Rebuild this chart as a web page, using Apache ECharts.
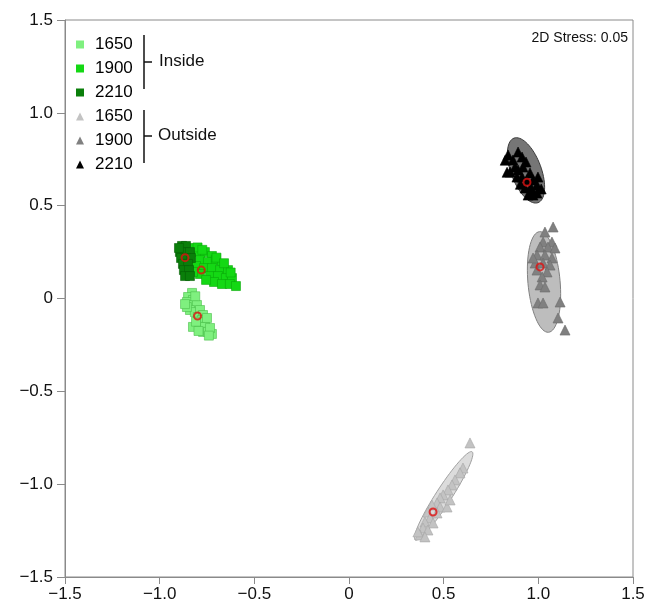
<!DOCTYPE html>
<html>
<head>
<meta charset="utf-8">
<script src="https://cdn.jsdelivr.net/npm/echarts@6/dist/echarts.min.js"></script>
<style>
  html, body { margin: 0; padding: 0; background: #fff; }
  #chart { width: 649px; height: 604px; }
</style>
</head>
<body>
<div id="chart"></div>
<script>
// MDS ordination, 2D coordinates
var insideA = [ // Inside 1650
  [-0.829, 0.030], [-0.850, 0.008], [-0.824, -0.008], [-0.856, -0.019], [-0.829, -0.035],
  [-0.803, -0.035], [-0.840, -0.062], [-0.814, -0.073], [-0.787, -0.062], [-0.798, -0.100],
  [-0.771, -0.089], [-0.777, -0.116], [-0.761, -0.127], [-0.824, -0.153], [-0.787, -0.153],
  [-0.761, -0.153], [-0.771, -0.180], [-0.745, -0.180], [-0.724, -0.191], [-0.734, -0.159],
  [-0.856, -0.046], [-0.750, -0.105], [-0.866, -0.030], [-0.808, -0.125], [-0.740, -0.200],
  [-0.812, 0.012], [-0.795, -0.175]
];
var insideB = [ // Inside 1900
  [-0.824, 0.272], [-0.798, 0.250], [-0.761, 0.250], [-0.724, 0.229], [-0.787, 0.207],
  [-0.745, 0.197], [-0.703, 0.207], [-0.671, 0.186], [-0.808, 0.175], [-0.766, 0.164],
  [-0.724, 0.164], [-0.681, 0.153], [-0.639, 0.153], [-0.787, 0.132], [-0.734, 0.121],
  [-0.692, 0.121], [-0.650, 0.110], [-0.618, 0.110], [-0.713, 0.089], [-0.671, 0.078],
  [-0.629, 0.078], [-0.597, 0.067], [-0.755, 0.100], [-0.840, 0.229], [-0.824, 0.143],
  [-0.800, 0.275], [-0.775, 0.262], [-0.700, 0.220], [-0.660, 0.190], [-0.625, 0.140]
];
var insideC = [ // Inside 2210
  [-0.882, 0.283], [-0.861, 0.283], [-0.893, 0.250], [-0.866, 0.250], [-0.840, 0.250],
  [-0.887, 0.218], [-0.861, 0.218], [-0.835, 0.218], [-0.877, 0.186], [-0.850, 0.186],
  [-0.872, 0.153], [-0.845, 0.153], [-0.866, 0.121], [-0.840, 0.121], [-0.898, 0.272]
];
var outsideA = [ // Outside 1650
  [0.639, -0.778], [0.602, -0.913], [0.586, -0.939], [0.560, -0.977], [0.544, -1.004],
  [0.523, -1.031], [0.497, -1.058], [0.481, -1.074], [0.465, -1.101], [0.481, -1.123],
  [0.438, -1.112], [0.417, -1.150], [0.465, -1.155], [0.428, -1.182], [0.401, -1.204],
  [0.444, -1.209], [0.391, -1.236], [0.417, -1.247], [0.375, -1.274], [0.401, -1.284],
  [0.364, -1.257], [0.518, -1.123], [0.534, -1.085]
];
var outsideB = [ // Outside 1900
  [1.078, 0.385], [1.035, 0.358], [1.025, 0.304], [1.072, 0.304], [1.009, 0.277],
  [1.051, 0.277], [1.088, 0.272], [0.993, 0.234], [1.035, 0.234], [1.072, 0.218],
  [0.983, 0.191], [1.025, 0.191], [1.062, 0.180], [0.993, 0.153], [1.046, 0.143],
  [1.020, 0.116], [1.009, 0.073], [1.035, 0.062], [0.998, -0.024], [1.025, -0.024],
  [1.115, -0.019], [1.104, -0.105], [1.141, -0.170], [0.972, 0.218]
];
var outsideC = [ // Outside 2210
  [0.840, 0.773], [0.893, 0.789], [0.914, 0.762], [0.851, 0.681], [0.877, 0.708],
  [0.919, 0.708], [0.956, 0.676], [0.940, 0.638], [0.972, 0.638], [0.993, 0.611],
  [0.930, 0.595], [0.967, 0.574], [0.993, 0.568], [0.946, 0.557], [0.972, 0.557],
  [0.893, 0.692], [0.914, 0.654], [0.887, 0.654], [0.998, 0.654], [0.935, 0.735],
  [0.866, 0.746], [0.825, 0.745], [0.835, 0.680], [1.015, 0.590], [0.905, 0.615],
  [0.960, 0.600]
];
// group centroids (red rings)
var centroids = [
  [-0.800, -0.094], [-0.780, 0.153], [-0.866, 0.220],
  [0.444, -1.150], [1.009, 0.170], [0.940, 0.626]
];
// ellipses: cx, cy, semi-major, semi-minor, angle of major axis (deg from x axis)
var ellipses = [
  [0.500, -1.063, 0.281, 0.042, 57.7],
  [1.030, 0.089, 0.272, 0.085, 95],
  [0.935, 0.690, 0.185, 0.080, 110]
];
var ellipseFill = ['#dcdcdc', '#bdbdbd', '#767676'];
var ellipseLine = ['#a0a0a0', '#808080', '#3a3a3a'];

var groupNames = ['1650', '1900', '2210'];
var axisTicks = [-1.5, -1.0, -0.5, 0, 0.5, 1.0, 1.5];

var chart = echarts.init(document.getElementById('chart'));

var fmt = function (v) {
  if (Math.abs(v) < 1e-9) return '0';
  return (v < 0 ? '\u2212' : '') + Math.abs(v).toFixed(1);
};

var pointSeries = function (name, data, symbol, size, fill, border) {
  return {
    name: name,
    type: 'scatter',
    data: data,
    symbol: symbol,
    symbolSize: size,
    z: 3,
    itemStyle: { color: fill, borderColor: border, borderWidth: 0.6, opacity: 1 }
  };
};

var option = {
  animation: false,
  textStyle: { fontFamily: 'Liberation Sans, Arial, sans-serif' },
  grid: {
    left: 65, right: 16, top: 20, bottom: 27,
    show: true, borderColor: '#8a8a8a', borderWidth: 1
  },
  legend: {
    orient: 'vertical',
    left: 71,
    top: 31,
    itemWidth: 8,
    itemHeight: 8,
    itemGap: 7,
    data: [
      { name: 'Inside 1650', icon: 'rect', itemStyle: { borderWidth: 0 } },
      { name: 'Inside 1900', icon: 'rect', itemStyle: { borderWidth: 0 } },
      { name: 'Inside 2210', icon: 'rect', itemStyle: { borderWidth: 0 } },
      { name: 'Outside 1650', icon: 'triangle', itemStyle: { borderWidth: 0 } },
      { name: 'Outside 1900', icon: 'triangle', itemStyle: { borderWidth: 0 } },
      { name: 'Outside 2210', icon: 'triangle', itemStyle: { borderWidth: 0 } }
    ],
    formatter: function (n) { return n.split(' ')[1]; },
    textStyle: { fontSize: 17, color: '#000', lineHeight: 17, padding: [0, 0, 0, 6] }
  },
  xAxis: {
    type: 'value',
    min: axisTicks[0], max: axisTicks[axisTicks.length - 1], interval: 0.5,
    axisLine: { onZero: false, lineStyle: { color: '#8a8a8a' } },
    axisTick: { length: 7, lineStyle: { color: '#8a8a8a' } },
    splitLine: { show: false },
    axisLabel: { fontSize: 17, color: '#111', margin: 9, formatter: fmt }
  },
  yAxis: {
    type: 'value',
    min: axisTicks[0], max: axisTicks[axisTicks.length - 1], interval: 0.5,
    axisLine: { onZero: false, lineStyle: { color: '#8a8a8a' } },
    axisTick: { length: 8, lineStyle: { color: '#8a8a8a' } },
    splitLine: { show: false },
    axisLabel: { fontSize: 17, color: '#111', margin: 12, formatter: fmt }
  },
  graphic: [
    { type: 'line', shape: { x1: 144, y1: 35, x2: 144, y2: 89 }, style: { stroke: '#111', lineWidth: 1.5 } },
    { type: 'line', shape: { x1: 144, y1: 62, x2: 152, y2: 62 }, style: { stroke: '#111', lineWidth: 1.5 } },
    { type: 'text', left: 159, top: 53, style: { text: 'Inside', fontSize: 17, fill: '#111', fontFamily: 'Liberation Sans, Arial, sans-serif' } },
    { type: 'line', shape: { x1: 144, y1: 110, x2: 144, y2: 163 }, style: { stroke: '#111', lineWidth: 1.5 } },
    { type: 'line', shape: { x1: 144, y1: 136, x2: 152, y2: 136 }, style: { stroke: '#111', lineWidth: 1.5 } },
    { type: 'text', left: 158, top: 127, style: { text: 'Outside', fontSize: 17, fill: '#111', fontFamily: 'Liberation Sans, Arial, sans-serif' } },
    { type: 'text', right: 21, top: 31, style: { text: '2D Stress: 0.05', fontSize: 14, fill: '#111', fontFamily: 'Liberation Sans, Arial, sans-serif' } }
  ],
  series: [
    {
      name: 'ellipses',
      type: 'custom',
      z: 2,
      data: ellipses,
      encode: { x: 0, y: 1 },
      renderItem: function (params, api) {
        var cx = api.value(0), cy = api.value(1), a = api.value(2), b = api.value(3);
        var ang = api.value(4) * Math.PI / 180;
        var pts = [];
        for (var i = 0; i < 72; i++) {
          var t = i / 72 * Math.PI * 2;
          var dx = a * Math.cos(t), dy = b * Math.sin(t);
          pts.push(api.coord([
            cx + dx * Math.cos(ang) - dy * Math.sin(ang),
            cy + dx * Math.sin(ang) + dy * Math.cos(ang)
          ]));
        }
        return {
          type: 'polygon',
          shape: { points: pts },
          style: { fill: ellipseFill[params.dataIndex], stroke: ellipseLine[params.dataIndex], lineWidth: 1 }
        };
      }
    },
    pointSeries('Inside 1650', insideA, 'rect', 9, '#7ff07f', '#4cbf4c'),
    pointSeries('Inside 1900', insideB, 'rect', 9, '#14d814', '#0aa80a'),
    pointSeries('Inside 2210', insideC, 'rect', 9, '#0a7f0a', '#066006'),
    pointSeries('Outside 1650', outsideA, 'triangle', 10, '#c3c3c3', '#a5a5a5'),
    pointSeries('Outside 1900', outsideB, 'triangle', 10, '#808080', '#6a6a6a'),
    pointSeries('Outside 2210', outsideC, 'triangle', 10, '#000000', '#000000'),
    {
      name: 'centroids',
      type: 'scatter',
      z: 5,
      data: centroids,
      symbol: 'circle',
      symbolSize: 7,
      itemStyle: { color: 'rgba(0,0,0,0)', borderColor: '#e01010', borderWidth: 2 }
    }
  ]
};
chart.setOption(option);
</script>
</body>
</html>
